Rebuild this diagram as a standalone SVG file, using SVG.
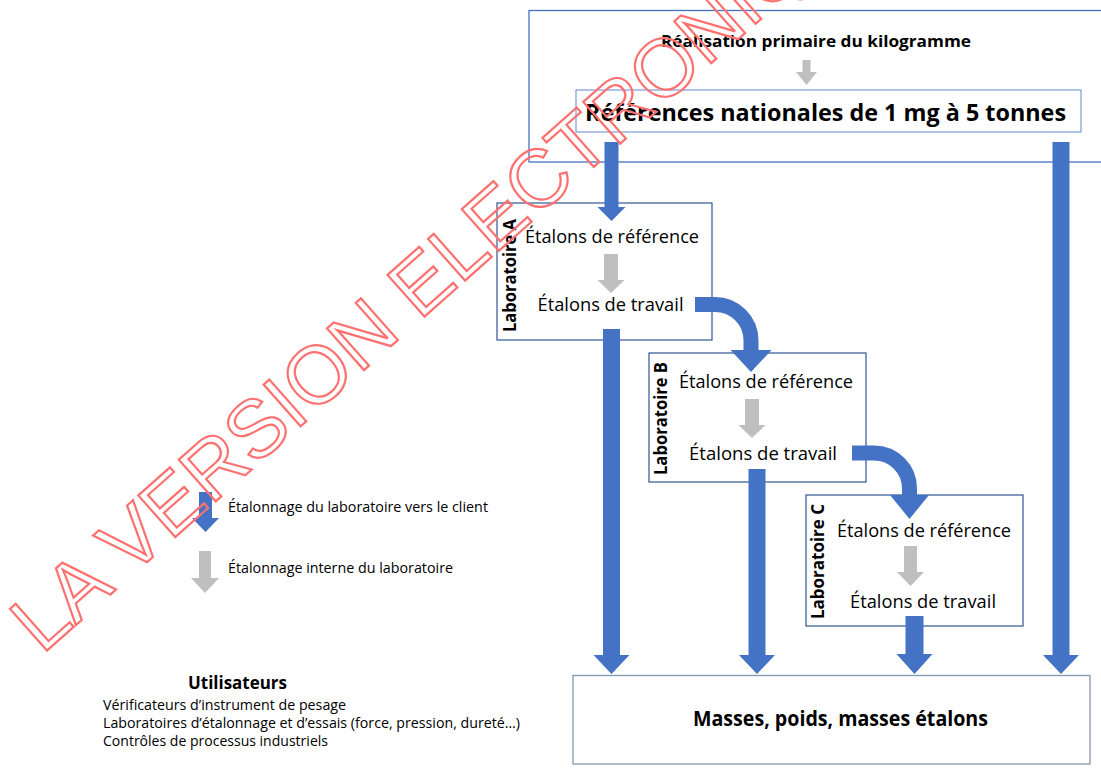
<svg xmlns="http://www.w3.org/2000/svg" width="1101" height="771" viewBox="0 0 1101 771">
<style>
.box{fill:#fff;stroke:#2F5597;stroke-width:1.2}
.t{font-family:"Open Sans","Noto Sans",sans-serif;fill:#000}
.b{font-weight:bold}
.blue{fill:#4472C4}
.gray{fill:#BFBFBF}
.bend{fill:none;stroke:#4472C4;stroke-width:15}
.wm{font-family:"Liberation Sans",Arial,sans-serif;font-size:81px;fill:none;stroke:#FF7070;stroke-width:2.2}
</style>
<rect width="1101" height="771" fill="#fff"/>
<g id="national">
<rect x="529" y="10.5" width="590" height="151.5" fill="#fff" stroke="#4472C4" stroke-width="1.3"/>
<text class="t b" x="661" y="47" font-size="16.5" textLength="310" lengthAdjust="spacingAndGlyphs">Réalisation primaire du kilogramme</text>
<path class="gray" d="M802.5,60H810.5V72H817L806.5,85L796,72H802.5Z"/>
<rect x="576" y="90" width="505" height="42" fill="#fff" stroke="#6F93D6" stroke-width="1.1"/>
<text class="t b" x="585" y="121" font-size="24" textLength="481" lengthAdjust="spacingAndGlyphs">Références nationales de 1 mg à 5 tonnes</text>
</g>
<g id="labA">
<rect class="box" x="497" y="203" width="215" height="137"/>
<text class="t b" transform="translate(516,332) rotate(-90)" font-size="17.5" textLength="113" lengthAdjust="spacingAndGlyphs">Laboratoire A</text>
<text class="t" x="612" y="243" font-size="18.5" text-anchor="middle" textLength="174" lengthAdjust="spacingAndGlyphs">Étalons de référence</text>
<path class="gray" d="M604,254H618V280H624.5L611,293L597.5,280H604Z"/>
<text class="t" x="610.5" y="311" font-size="18.5" text-anchor="middle" textLength="146" lengthAdjust="spacingAndGlyphs">Étalons de travail</text>
</g>
<g id="labB">
<rect class="box" x="649" y="353" width="217" height="129"/>
<text class="t b" transform="translate(667,475) rotate(-90)" font-size="17.5" textLength="113" lengthAdjust="spacingAndGlyphs">Laboratoire B</text>
<text class="t" x="766" y="388" font-size="18.5" text-anchor="middle" textLength="174" lengthAdjust="spacingAndGlyphs">Étalons de référence</text>
<path class="gray" d="M745,399H759V425H765.5L752,438L738.5,425H745Z"/>
<text class="t" x="763" y="460" font-size="18.5" text-anchor="middle" textLength="148" lengthAdjust="spacingAndGlyphs">Étalons de travail</text>
</g>
<g id="labC">
<rect class="box" x="806" y="495" width="217" height="131"/>
<text class="t b" transform="translate(824,619) rotate(-90)" font-size="17.5" textLength="115" lengthAdjust="spacingAndGlyphs">Laboratoire C</text>
<text class="t" x="924" y="537" font-size="18.5" text-anchor="middle" textLength="174" lengthAdjust="spacingAndGlyphs">Étalons de référence</text>
<path class="gray" d="M904,546H917V572H924L910.5,586L897,572H904Z"/>
<text class="t" x="923" y="608" font-size="18.5" text-anchor="middle" textLength="146" lengthAdjust="spacingAndGlyphs">Étalons de travail</text>
</g>
<g id="masses">
<rect x="573" y="675.5" width="517" height="88.5" fill="#fff" stroke="#8497B0" stroke-width="1.3"/>
<text class="t b" x="840.5" y="726" font-size="21.5" text-anchor="middle" textLength="295" lengthAdjust="spacingAndGlyphs">Masses, poids, masses étalons</text>
</g>
<g id="legend">
<path class="blue" d="M199,492H212V518H219L205.5,532L192,518H199Z"/>
<text class="t" x="228" y="512" font-size="14.5" textLength="260" lengthAdjust="spacingAndGlyphs">Étalonnage du laboratoire vers le client</text>
<path class="gray" d="M199,551H211V578H219L205,593L191,578H199Z"/>
<text class="t" x="228" y="573" font-size="14.5" textLength="225" lengthAdjust="spacingAndGlyphs">Étalonnage interne du laboratoire</text>
</g>
<g id="utilisateurs">
<text class="t b" x="188" y="689" font-size="18" textLength="99" lengthAdjust="spacingAndGlyphs">Utilisateurs</text>
<text class="t" x="103" y="710" font-size="14.5" textLength="243" lengthAdjust="spacingAndGlyphs">Vérificateurs d’instrument de pesage</text>
<text class="t" x="103" y="728" font-size="14.5" textLength="417" lengthAdjust="spacingAndGlyphs">Laboratoires d’étalonnage et d’essais (force, pression, dureté…)</text>
<text class="t" x="103" y="746" font-size="14.5" textLength="225" lengthAdjust="spacingAndGlyphs">Contrôles de processus industriels</text>
</g>
<g id="connectors">
<path class="blue" d="M604.5,142H618.5V207H625.5L611.5,221L597.5,207H604.5Z"/>
<path class="blue" d="M1052.5,142H1069.5V655H1079L1061,674L1043,655H1052.5Z"/>
<path class="blue" d="M603,329H620V655H629.5L611.5,674L593.5,655H603Z"/>
<path class="blue" d="M748.5,469H765.5V655H775L757,674L739,655H748.5Z"/>
<path class="blue" d="M905.5,616H923.5V654H932.5L914.5,674L896.5,654H905.5Z"/>
<path class="bend" d="M695,304.5H715A36,36 0 0 1 751,340.5V352"/>
<path class="blue" d="M730.5,350H771.5L751,372Z"/>
<path class="bend" d="M852,453H874A35.5,35.5 0 0 1 909.5,488.5V497"/>
<path class="blue" d="M890,495H929L909.5,519Z"/>
</g>
<g id="watermark">
<text class="wm" x="42" y="655" transform="rotate(-41.5 42 655)">LA VERSION ELECTRONIQUE</text>
</g>
</svg>
